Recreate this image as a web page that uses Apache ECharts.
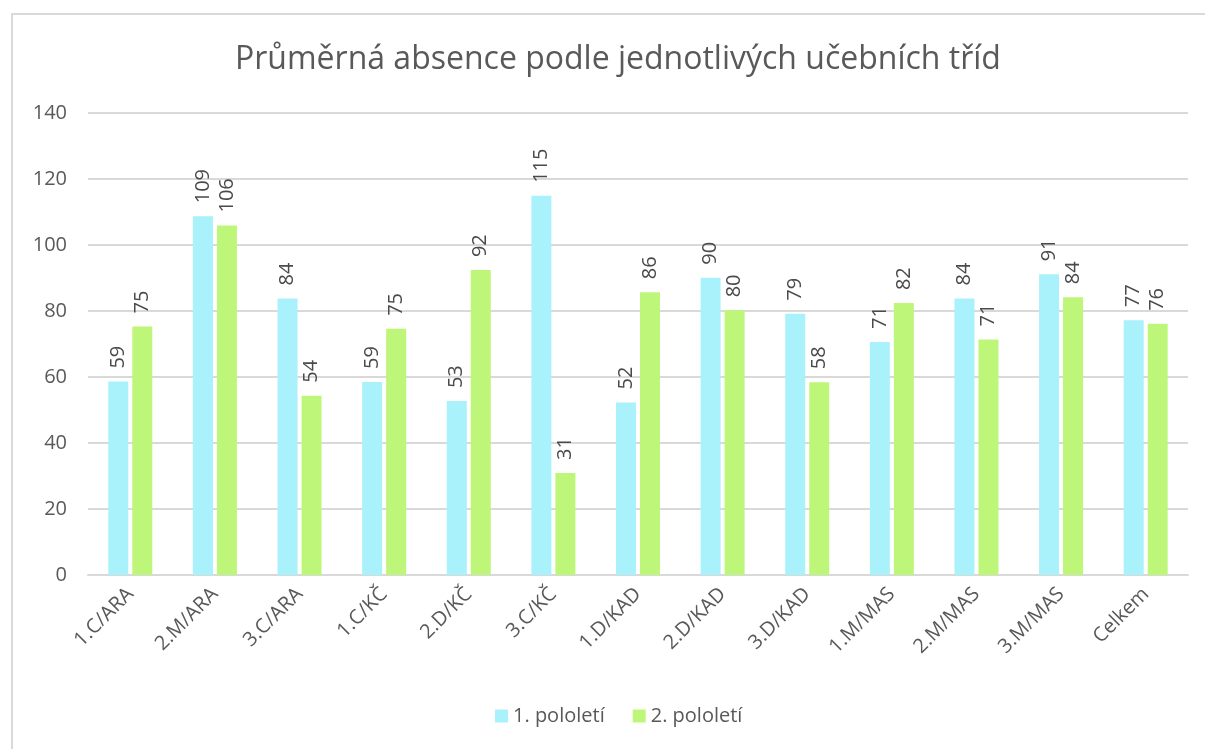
<!DOCTYPE html>
<html>
<head>
<meta charset="utf-8">
<script src="https://cdn.jsdelivr.net/npm/echarts@6/dist/echarts.min.js"></script>
<style>
  html, body { margin: 0; padding: 0; background: #fff; }
  #chart { width: 1205px; height: 749px; }
</style>
</head>
<body>
<div id="chart"></div>
<script>
// tridy a prumerna absence
var categories = ['1.C/ARA', '2.M/ARA', '3.C/ARA', '1.C/KČ', '2.D/KČ', '3.C/KČ', '1.D/KAD', '2.D/KAD', '3.D/KAD', '1.M/MAS', '2.M/MAS', '3.M/MAS', 'Celkem'];
var pololeti1 = [58.6, 108.7, 83.8, 58.5, 52.7, 114.9, 52.3, 90.1, 79.2, 70.6, 83.8, 91.1, 77.2];
var pololeti2 = [75.3, 105.9, 54.3, 74.6, 92.4, 30.9, 85.7, 80.2, 58.4, 82.4, 71.4, 84.2, 76.1];
var yTicks = [0, 20, 40, 60, 80, 100, 120, 140];

var font = '"Open Sans", "Noto Sans", sans-serif';
var txt = '#595959';

var chart = echarts.init(document.getElementById('chart'));

var labelOpt = {
  show: true,
  position: 'top',
  rotate: 90,
  align: 'left',
  verticalAlign: 'middle',
  distance: 13,
  color: '#4a4a4a',
  fontSize: 20,
  fontFamily: font,
  formatter: function (p) { return Math.round(p.value); }
};

var option = {
  backgroundColor: '#fff',
  animation: false,
  graphic: [{
    type: 'rect',
    shape: { x: 12, y: 14, width: 1300, height: 900 },
    style: { fill: 'none', stroke: '#d9d9d9', lineWidth: 2 },
    z: -1
  }],
  title: {
    text: 'Průměrná absence podle jednotlivých učebních tříd',
    left: 230,
    top: 39,
    textStyle: { color: txt, fontSize: 32, fontWeight: 'normal', fontFamily: font }
  },
  legend: {
    bottom: 18,
    left: 490,
    itemWidth: 13,
    itemHeight: 13,
    itemGap: 28,
    icon: 'rect',
    textStyle: { color: txt, fontSize: 20, fontFamily: font },
    data: ['1. pololetí', '2. pololetí']
  },
  grid: { left: 88, right: 17, top: 113, bottom: 174 },
  xAxis: {
    type: 'category',
    data: categories,
    axisLine: { lineStyle: { color: '#d9d9d9', width: 2 } },
    axisTick: { show: false },
    axisLabel: { rotate: 45, color: txt, fontSize: 20, fontFamily: font, margin: 16, interval: 0 }
  },
  yAxis: {
    type: 'value',
    min: yTicks[0],
    max: yTicks[yTicks.length - 1],
    interval: 20,
    axisLine: { show: false },
    axisTick: { show: false },
    splitLine: { lineStyle: { color: '#d9d9d9', width: 2 } },
    axisLabel: { color: txt, fontSize: 20, fontFamily: font, margin: 21 }
  },
  series: [{
    name: '1. pololetí',
    type: 'bar',
    data: pololeti1,
    barWidth: 20,
    barGap: '20%',
    itemStyle: { color: '#a9f1fb' },
    label: labelOpt
  }, {
    name: '2. pololetí',
    type: 'bar',
    data: pololeti2,
    barWidth: 20,
    itemStyle: { color: '#bef67a' },
    label: labelOpt
  }]
};

chart.setOption(option);
</script>
</body>
</html>
